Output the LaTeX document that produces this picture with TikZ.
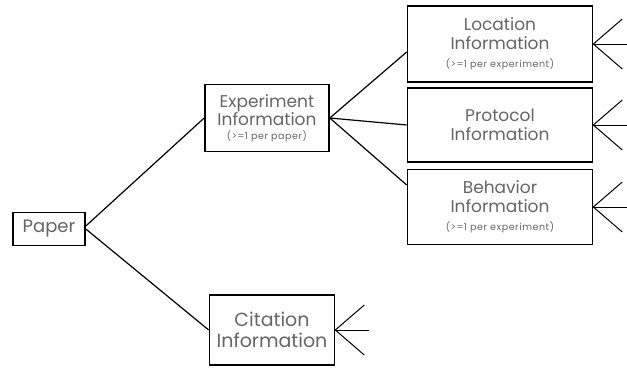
\documentclass[tikz,border=0pt]{standalone}
\usepackage{fontspec}
\setmainfont{Poppins}
\usetikzlibrary{calc}

\begin{document}
\begin{tikzpicture}[x=1pt,y=-1pt,
box/.style={draw, line width=1.6pt, align=center, inner sep=0pt, text=black!60, font=\fontsize{17}{19}\selectfont},
crow/.style={line width=1pt}]
	\newcommand{\sm}[1]{{\fontsize{9.5}{10}\selectfont\addfontfeature{LetterSpace=6}#1}}
	\useasboundingbox[fill=white] (0,0) rectangle (627,368);
	\node[box, minimum width=72pt, minimum height=33pt, font=\fontsize{18}{20}\selectfont] at (49,229) (paper) {Paper};
	\node[box, minimum width=124pt, minimum height=67pt, font=\fontsize{17}{15}\selectfont] at (267,118) (expinfo) {Experiment\\Information\\[-1pt]\sm{(>=1 per paper)}};
	\node[box, minimum width=185pt, minimum height=76pt] at (500,44) (locinfo) {Location\\Information\\[-1pt]\sm{(>=1 per experiment)}};
	\node[box, minimum width=185pt, minimum height=74pt] at (500,125) (protinfo) {Protocol\\Information};
	\node[box, minimum width=185pt, minimum height=75pt] at (500,207) (behinfo) {Behavior\\Information\\[-1pt]\sm{(>=1 per experiment)}};
	\node[box, minimum width=125pt, minimum height=70pt, font=\fontsize{19}{21}\selectfont] at (272,330) (citinfo) {Citation\\Information};
	\draw[line width=1.2pt] ([yshift=3pt]paper.east) -- (expinfo.west);
	\draw[line width=1.2pt] (paper.east) -- (citinfo.west);
	\draw[line width=1.2pt] (expinfo.east) -- ([yshift=-8pt]locinfo.west);
	\draw[line width=1.2pt] (expinfo.east) -- (protinfo.west);
	\draw[line width=1.2pt] (expinfo.east) -- ([yshift=22pt]behinfo.west);
	% many side
	\foreach \n in {locinfo,protinfo,behinfo,citinfo}{
		\draw[crow] (\n.east) -- ++(29,-25);
		\draw[crow] (\n.east) -- ++(34,0);
		\draw[crow] (\n.east) -- ++(29,25);
	}
\end{tikzpicture}
\end{document}
